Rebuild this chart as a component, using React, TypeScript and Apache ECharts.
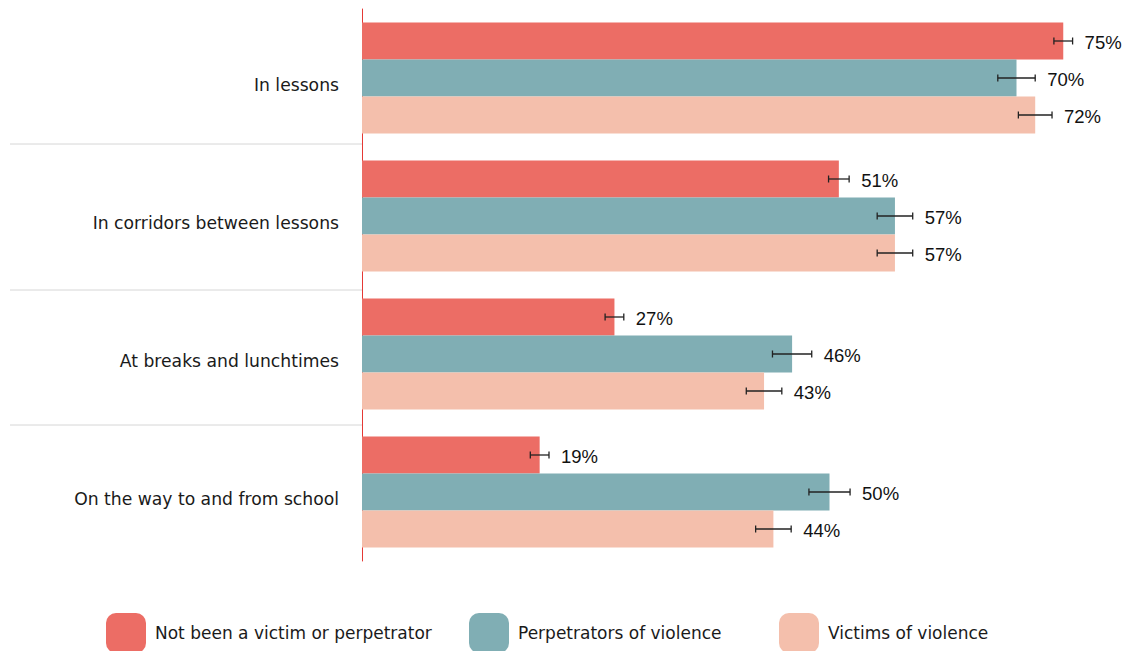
import React, { useEffect, useRef } from "react";
import * as echarts from "echarts";

const categories = [
  "In lessons",
  "In corridors between lessons",
  "At breaks and lunchtimes",
  "On the way to and from school",
];
const seriesNames = [
  "Not been a victim or perpetrator",
  "Perpetrators of violence",
  "Victims of violence",
];
const notVictim = [75, 51, 27, 19];
const perpetrators = [70, 57, 46, 50];
const victims = [72, 57, 43, 44];
const notVictimErr = [1.0, 1.1, 1.0, 1.0];
const perpetratorsErr = [2.0, 1.9, 2.1, 2.2];
const victimsErr = [1.8, 1.9, 1.9, 1.9];

const COLORS = ["#EC6D65", "#80AEB4", "#F4BFAC"];
const BAR_W = 37;
const CAT_FONT = "'DejaVu Sans', 'Noto Sans', sans-serif";
const VAL_FONT = "'Liberation Sans', Arial, sans-serif";

export default function App() {
  const ref = useRef<HTMLDivElement>(null);
  useEffect(() => {
    if (!ref.current) return;
    const chart = echarts.init(ref.current, null, { renderer: "svg" });

    const makeErr = (vals: number[], errs: number[], slot: number) => ({
      type: "custom",
      data: vals.map((v, k) => [v, k, errs[k]]),
      encode: { x: 0, y: 1 },
      clip: false,
      silent: true,
      z: 5,
      renderItem: (params: any, api: any) => {
        const v = api.value(0);
        const k = api.value(1);
        const e = api.value(2);
        const off = (slot - 1) * BAR_W;
        const lo = api.coord([v - e, k]);
        const hi = api.coord([v + e, k]);
        const y = lo[1] + off;
        const st = { stroke: "#222", lineWidth: 1.3 };
        return {
          type: "group",
          children: [
            { type: "line", shape: { x1: lo[0], y1: y, x2: hi[0], y2: y }, style: st },
            { type: "line", shape: { x1: lo[0], y1: y - 3.5, x2: lo[0], y2: y + 3.5 }, style: st },
            { type: "line", shape: { x1: hi[0], y1: y - 3.5, x2: hi[0], y2: y + 3.5 }, style: st },
            {
              type: "text",
              x: hi[0] + 12,
              y: y + 1,
              style: {
                text: v + "%",
                fontSize: 18.5,
                fontFamily: VAL_FONT,
                fill: "#111",
                align: "left",
                verticalAlign: "middle",
              },
            },
          ],
        };
      },
    });

    const sepY = [144, 290, 425];
    const legendLefts = [106, 469, 779];

    chart.setOption({
      animation: false,
      grid: { left: 362, right: 18, top: 9, bottom: 90, containLabel: false },
      xAxis: { type: "value", min: 0, max: 80, show: false },
      yAxis: {
        type: "category",
        data: categories,
        inverse: true,
        axisLine: { show: true, lineStyle: { color: "#E53935", width: 1 } },
        axisTick: { show: false },
        axisLabel: {
          margin: 23,
          fontSize: 17.2,
          color: "#1a1a1a",
          fontFamily: CAT_FONT,
          verticalAlign: "top",
          lineHeight: 14,
        },
      },
      legend: seriesNames.map((n, i) => ({
        data: [n],
        left: legendLefts[i],
        top: 613,
        itemWidth: 40,
        itemHeight: 40,
        icon: "roundRect",
        padding: 0,
        selectedMode: false,
        textStyle: { fontSize: 17, color: "#1a1a1a", fontFamily: CAT_FONT, padding: [0, 0, 0, 4] },
      })),
      graphic: sepY.map((y) => ({
        type: "line",
        shape: { x1: 10, y1: y, x2: 362, y2: y },
        style: { stroke: "#d6d6d6", lineWidth: 1 },
      })),
      series: [
        { name: seriesNames[0], type: "bar", data: notVictim, barWidth: BAR_W, barGap: "0%", itemStyle: { color: COLORS[0] } },
        { name: seriesNames[1], type: "bar", data: perpetrators, barWidth: BAR_W, barGap: "0%", itemStyle: { color: COLORS[1] } },
        { name: seriesNames[2], type: "bar", data: victims, barWidth: BAR_W, barGap: "0%", itemStyle: { color: COLORS[2] } },
        makeErr(notVictim, notVictimErr, 0),
        makeErr(perpetrators, perpetratorsErr, 1),
        makeErr(victims, victimsErr, 2),
      ],
    });
    return () => chart.dispose();
  }, []);
  return (
    <div
      ref={ref}
      style={{ position: "absolute", left: 0, top: 0, width: 1128, height: 651, background: "#fff" }}
    />
  );
}
